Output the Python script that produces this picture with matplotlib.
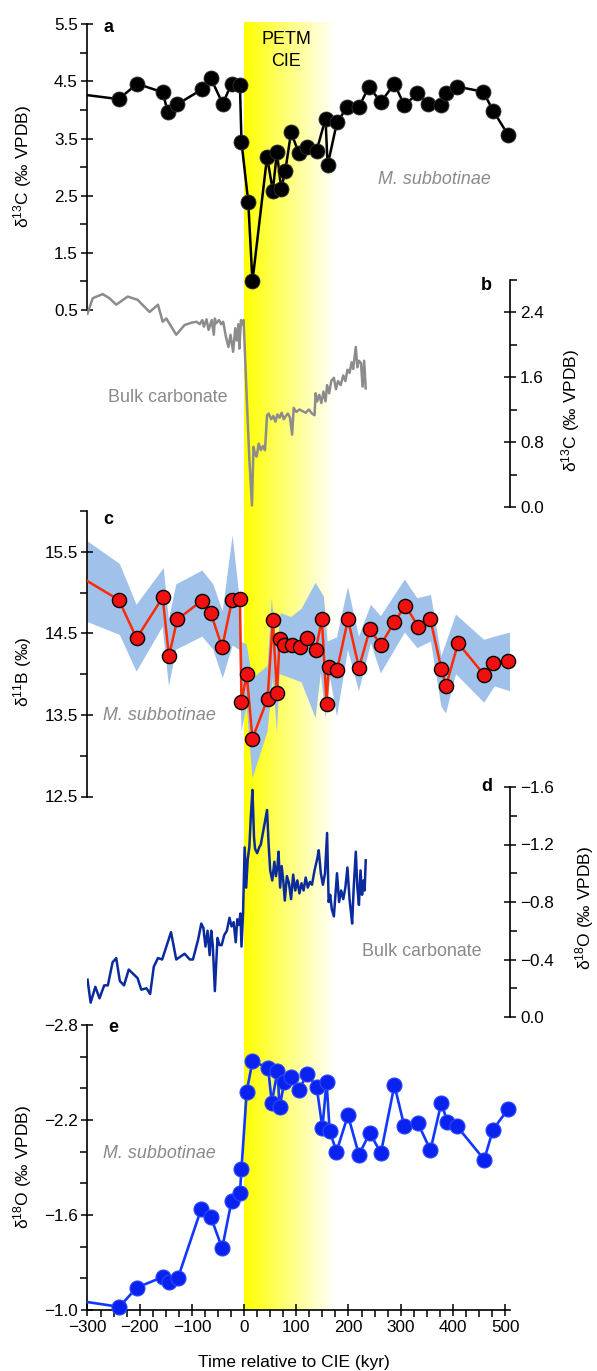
import numpy as np
import matplotlib
matplotlib.use('Agg')
import matplotlib.pyplot as plt
from matplotlib.ticker import MultipleLocator, FixedLocator, FuncFormatter

plt.rcParams['font.family'] = ['Liberation Sans', 'DejaVu Sans']
plt.rcParams['mathtext.fontset'] = 'custom'
plt.rcParams['mathtext.rm'] = 'Liberation Sans'
plt.rcParams['mathtext.it'] = 'Liberation Sans:italic'

# ---------------- data ----------------
# a: M. subbotinae d13C
a_t = [-300, -240, -205, -156, -146, -128, -81, -64, -41, -24,
       -8, -5, 8, 16, 44, 55, 63, 71, 79, 90,
       105, 121, 139, 156, 160, 178, 198, 220, 239, 262,
       288, 307, 332, 352, 377, 387, 408, 458, 477, 506]
a_v = [4.26, 4.19, 4.46, 4.31, 3.96, 4.10, 4.36, 4.56, 4.11, 4.46,
       4.44, 3.44, 2.39, 1.00, 3.18, 2.59, 3.26, 2.62, 2.94, 3.61,
       3.24, 3.35, 3.29, 3.85, 3.03, 3.79, 4.05, 4.05, 4.41, 4.14,
       4.46, 4.08, 4.29, 4.11, 4.08, 4.29, 4.41, 4.32, 3.99, 3.56]

# b: bulk carbonate d13C
b_t = [-300, -290, -271, -258, -245, -223, -204, -181, -165, -156,
       -149, -130, -114, -100, -91, -85, -80, -77, -72, -68,
       -62, -58, -56, -54, -48, -44, -40, -35, -30, -26,
       -21, -17, -14, -11, -9, -6, -3, -1, 2, 6,
       10, 15, 18, 21, 24, 28, 32, 36, 40, 44,
       47, 52, 56, 60, 64, 68, 72, 76, 80, 84,
       88, 92, 95, 100, 106, 112, 118, 124, 130, 135,
       137, 140, 144, 148, 152, 156, 159, 163, 167, 172,
       176, 180, 185, 190, 194, 198, 202, 206, 209, 211,
       214, 217, 220, 224, 227, 230, 233]
b_v = [2.38, 2.57, 2.62, 2.57, 2.49, 2.59, 2.55, 2.40, 2.49, 2.28,
       2.32, 2.12, 2.24, 2.27, 2.28, 2.25, 2.30, 2.22, 2.31, 2.18,
       2.30, 2.12, 2.32, 2.26, 2.30, 2.25, 2.28, 2.10, 1.97, 2.12,
       1.91, 2.20, 2.05, 2.25, 1.95, 2.30, 2.25, 2.30, 1.83, 1.20,
       0.60, 0.02, 0.74, 0.65, 0.62, 0.78, 0.70, 0.75, 0.70, 1.13,
       1.15, 1.08, 1.12, 1.05, 1.14, 1.10, 1.16, 1.08, 1.12, 1.15,
       1.10, 0.89, 1.22, 1.17, 1.20, 1.18, 1.16, 1.20, 1.15, 1.13,
       1.40, 1.30, 1.38, 1.28, 1.42, 1.30, 1.50, 1.40, 1.55, 1.59,
       1.45, 1.55, 1.50, 1.62, 1.55, 1.69, 1.65, 1.78, 1.70, 1.81,
       1.97, 1.72, 1.80, 1.77, 1.48, 1.80, 1.46]

# c: M. subbotinae d11B with uncertainty envelope
c_t = [-300, -240, -206, -156, -144, -128, -81, -64, -42, -23,
       -8, -5, 5, 16, 45, 55, 63, 68, 77, 91,
       108, 121, 137, 149, 158, 162, 178, 199, 220, 241,
       262, 288, 309, 334, 357, 378, 387, 410, 460, 477, 506]
c_v = [15.14, 14.91, 14.44, 14.94, 14.22, 14.67, 14.90, 14.75, 14.33, 14.91,
       14.92, 13.66, 14.00, 13.21, 13.70, 14.66, 13.77, 14.43, 14.36, 14.36,
       14.33, 14.44, 14.29, 14.67, 13.64, 14.09, 14.05, 14.67, 14.08, 14.55,
       14.36, 14.64, 14.84, 14.58, 14.67, 14.06, 13.86, 14.38, 13.99, 14.14, 14.16]
c_up_t = [-300, -238, -206, -154, -144, -130, -80, -59, -41, -22,
          -9, -5, 5, 16, 45, 53, 63, 70, 90, 110,
          137, 153, 160, 178, 199, 220, 243, 262, 308, 332,
          358, 378, 406, 460, 480, 510]
c_up_v = [15.63, 15.35, 14.85, 15.30, 14.67, 15.10, 15.27, 15.10, 14.77, 15.70,
          14.95, 14.40, 14.36, 13.95, 14.10, 14.93, 14.30, 14.75, 14.70, 14.80,
          15.12, 14.95, 14.40, 14.45, 15.07, 14.46, 14.85, 14.71, 15.16, 14.93,
          14.97, 14.22, 14.73, 14.42, 14.46, 14.51]
c_lo_t = [-300, -238, -206, -156, -144, -130, -80, -59, -41, -22,
          -9, -5, 5, 16, 45, 55, 63, 68, 90, 110,
          137, 147, 156, 165, 178, 199, 220, 243, 262, 308,
          332, 358, 378, 387, 406, 460, 480, 510]
c_lo_v = [14.64, 14.48, 14.03, 14.58, 13.85, 14.30, 14.46, 14.30, 13.95, 14.35,
          14.30, 13.30, 13.60, 12.72, 13.30, 13.95, 13.28, 14.00, 13.95, 13.90,
          13.46, 14.01, 13.46, 13.95, 13.48, 14.30, 13.79, 14.38, 14.01, 14.51,
          14.32, 14.40, 13.60, 13.52, 14.00, 13.65, 13.85, 13.79]

# d: bulk carbonate d18O
d_t = [-300, -294, -285, -277, -268, -261, -252, -245, -238, -230,
       -221, -204, -197, -187, -180, -173, -165, -157, -140, -130,
       -114, -104, -98, -88, -82, -78, -74, -70, -66, -63,
       -60, -56, -51, -47, -43, -38, -33, -28, -24, -20,
       -16, -13, -10, -7, -5, -2, 1, 4, 7, 10,
       13, 16, 19, 21, 25, 29, 32, 38, 44, 47,
       50, 54, 58, 61, 64, 66, 69, 72, 75, 78,
       82, 86, 90, 94, 98, 102, 106, 110, 114, 118,
       122, 126, 130, 135, 140, 143, 147, 151, 155, 159,
       162, 165, 168, 172, 175, 178, 182, 186, 190, 194,
       198, 202, 205, 207, 210, 214, 217, 220, 223, 226,
       229, 231, 233]
d_v = [-0.26, -0.10, -0.21, -0.13, -0.22, -0.22, -0.38, -0.41, -0.25, -0.22,
       -0.33, -0.27, -0.19, -0.20, -0.16, -0.35, -0.41, -0.40, -0.59, -0.40,
       -0.44, -0.40, -0.40, -0.54, -0.65, -0.62, -0.49, -0.60, -0.43, -0.60,
       -0.50, -0.18, -0.55, -0.50, -0.50, -0.57, -0.60, -0.69, -0.63, -0.66,
       -0.52, -0.68, -0.64, -0.72, -0.49, -0.72, -1.18, -0.90, -1.10, -1.18,
       -1.40, -1.58, -1.25, -1.17, -1.14, -1.18, -1.20, -1.32, -1.44, -1.20,
       -1.02, -0.95, -1.08, -0.98, -1.05, -1.15, -0.90, -1.05, -0.95, -0.81,
       -0.98, -0.93, -0.82, -0.99, -0.88, -0.95, -0.86, -0.93, -0.88, -0.97,
       -0.90, -0.94, -0.92, -1.02, -1.10, -1.16, -1.00, -0.92, -1.00, -1.28,
       -0.80, -0.85, -0.75, -0.70, -0.85, -1.00, -0.80, -0.88, -0.82, -0.90,
       -1.04, -0.82, -0.72, -0.65, -0.90, -1.15, -0.90, -0.78, -1.02, -0.85,
       -0.95, -0.88, -1.09]

# e: M. subbotinae d18O
e_t = [-300, -239, -206, -155, -144, -127, -82, -64, -42, -24,
       -8, -5, 5, 16, 46, 53, 64, 68, 77, 89,
       105, 121, 139, 150, 158, 164, 177, 199, 220, 241,
       262, 288, 307, 333, 357, 378, 389, 408, 460, 477, 506]
e_v = [-1.05, -1.02, -1.14, -1.21, -1.18, -1.20, -1.64, -1.59, -1.39, -1.69,
       -1.74, -1.89, -2.38, -2.57, -2.53, -2.31, -2.51, -2.28, -2.44, -2.47,
       -2.39, -2.49, -2.41, -2.15, -2.44, -2.13, -2.00, -2.23, -1.98, -2.12,
       -1.99, -2.42, -2.16, -2.18, -2.01, -2.31, -2.19, -2.16, -1.95, -2.14, -2.27]

x_ticks = [-300, -200, -100, 0, 100, 200, 300, 400, 500]
petm_span = (0, 175)

# ---------------- layout ----------------
W, H = 597, 1371
fig = plt.figure(figsize=(W / 100, H / 100), dpi=100)
XL, XR = -300, 510
X0, X1 = 87.5, 510.3


def ax_at(top, bot):
    return fig.add_axes([X0 / W, 1 - bot / H, (X1 - X0) / W, (bot - top) / H])


def fmt(v, pos=None, nd=1):
    s = f"{v:.{nd}f}"
    if s.startswith('-'):
        s = '\u2212' + s[1:]
    if s in ('\u22120.0',):
        s = '0.0'
    return s


TICK_FS = 12.3
LAB_FS = 12.5
TXT_FS = 12.9


def style(ax, side, ylim, major, minor):
    for s in ['top', 'bottom', 'left', 'right']:
        ax.spines[s].set_visible(False)
    ax.spines[side].set_visible(True)
    ax.spines[side].set_linewidth(1.2)
    ax.patch.set_visible(False)
    ax.set_xlim(XL, XR)
    ax.set_ylim(*ylim)
    ax.xaxis.set_visible(False)
    if side == 'right':
        ax.yaxis.tick_right()
    else:
        ax.yaxis.tick_left()
    ax.yaxis.set_major_locator(FixedLocator(major))
    ax.yaxis.set_minor_locator(FixedLocator(minor))
    ax.yaxis.set_major_formatter(FuncFormatter(fmt))
    ax.tick_params(axis='y', which='major', direction='inout', length=9,
                   width=1.1, labelsize=TICK_FS, pad=2.5)
    ax.tick_params(axis='y', which='minor', direction='out', length=5, width=1.1)


# background gradient (PETM CIE)
ax_bg = ax_at(22, 1310)
ax_bg.set_xlim(XL, XR)
ax_bg.set_ylim(0, 1)
ax_bg.axis('off')
n = 256
grad = np.zeros((1, n, 4))
grad[..., 0] = 1.0
grad[..., 1] = 1.0
grad[..., 2] = 0.0
grad[..., 3] = np.linspace(1, 0, n)
ax_bg.imshow(grad, extent=[petm_span[0], petm_span[1], 0, 1], aspect='auto',
             interpolation='bilinear', zorder=0)

# panel a
ax_a = ax_at(24.3, 310)
style(ax_a, 'left', (0.5, 5.5), [0.5, 1.5, 2.5, 3.5, 4.5, 5.5], [1, 2, 3, 4, 5])
ax_a.plot(a_t, a_v, color='black', lw=1.8, zorder=3)
ax_a.plot(a_t[1:], a_v[1:], 'o', color='black', ms=10.8, mec='#333333',
          mew=0.6, zorder=4, clip_on=False)

# panel b
ax_b = ax_at(279.5, 507)
style(ax_b, 'right', (0, 2.8), [0, 0.8, 1.6, 2.4], [0.4, 1.2, 2.0, 2.8])
ax_b.plot(b_t, b_v, color='#8c8c8c', lw=1.8, zorder=2)

# panel c
ax_c = ax_at(511, 796.5)
style(ax_c, 'left', (12.5, 16.0), [12.5, 13.5, 14.5, 15.5], [13, 14, 15, 16])
ax_c.fill(np.concatenate([c_up_t, c_lo_t[::-1]]),
          np.concatenate([c_up_v, c_lo_v[::-1]]),
          color='#9fc1ea', lw=0, zorder=1)
ax_c.plot(c_t, c_v, color='#ff2a00', lw=1.8, zorder=3)
ax_c.plot(c_t[1:], c_v[1:], 'o', color='#f01010', ms=10.2, mec='black',
          mew=1.0, zorder=4, clip_on=False)

# panel d
ax_d = ax_at(787, 1017)
style(ax_d, 'right', (0, -1.6), [0, -0.4, -0.8, -1.2, -1.6], [-0.2, -0.6, -1.0, -1.4])
ax_d.plot(d_t, d_v, color='#0a2a9e', lw=1.8, zorder=2)

# panel e
ax_e = ax_at(1025, 1310)
style(ax_e, 'left', (-1.0, -2.8), [-2.8, -2.2, -1.6, -1.0],
      [-2.6, -2.4, -2.0, -1.8, -1.4, -1.2])
ax_e.spines['bottom'].set_visible(True)
ax_e.spines['bottom'].set_linewidth(1.2)
ax_e.xaxis.set_visible(True)
ax_e.xaxis.set_major_locator(FixedLocator(x_ticks))
ax_e.xaxis.set_minor_locator(MultipleLocator(25))
ax_e.tick_params(axis='x', which='major', direction='inout', length=9,
                 width=1.1, labelsize=TICK_FS, pad=3)
ax_e.tick_params(axis='x', which='minor', direction='out', length=5, width=1.1)
ax_e.plot(e_t, e_v, color='#1238ff', lw=1.9, zorder=3)
ax_e.plot(e_t[1:], e_v[1:], 'o', color='#0a22f0', ms=10.8, mec='#2a48ff',
          mew=0.8, zorder=4, clip_on=False)


# ---------------- text ----------------
def ftext(x, y, s, **kw):
    fig.text(x / W, 1 - y / H, s, **kw)


grey = '#8a8a8a'
for (x, y, s) in [(103, 27, 'a'), (481, 286, 'b'), (103, 519, 'c'),
                  (481, 787, 'd'), (108, 1028, 'e')]:
    ftext(x, y, s, fontsize=13, fontweight='bold', ha='left', va='center')

ftext(286, 40, 'PETM', fontsize=TXT_FS, ha='center', va='center')
ftext(286, 62, 'CIE', fontsize=TXT_FS, ha='center', va='center')

ftext(378, 179, 'M. subbotinae', fontsize=TXT_FS, style='italic', color=grey,
      ha='left', va='center')
ftext(108, 398, 'Bulk carbonate', fontsize=TXT_FS, color=grey, ha='left', va='center')
ftext(103, 715, 'M. subbotinae', fontsize=TXT_FS, style='italic', color=grey,
      ha='left', va='center')
ftext(362, 952, 'Bulk carbonate', fontsize=TXT_FS, color=grey, ha='left', va='center')
ftext(103, 1153, 'M. subbotinae', fontsize=TXT_FS, style='italic', color=grey,
      ha='left', va='center')

ftext(23, 166, 'δ$^{13}$C (‰ VPDB)', fontsize=LAB_FS, rotation=90,
      ha='center', va='center')
ftext(23, 672, 'δ$^{11}$B (‰)', fontsize=LAB_FS, rotation=90,
      ha='center', va='center')
ftext(23, 1167, 'δ$^{18}$O (‰ VPDB)', fontsize=LAB_FS, rotation=90,
      ha='center', va='center')
ftext(571, 410, 'δ$^{13}$C (‰ VPDB)', fontsize=LAB_FS, rotation=90,
      ha='center', va='center')
ftext(585, 908, 'δ$^{18}$O (‰ VPDB)', fontsize=LAB_FS, rotation=90,
      ha='center', va='center')
ftext(294, 1362, 'Time relative to CIE (kyr)', fontsize=LAB_FS,
      ha='center', va='center')

fig.savefig('out.png', dpi=100)
